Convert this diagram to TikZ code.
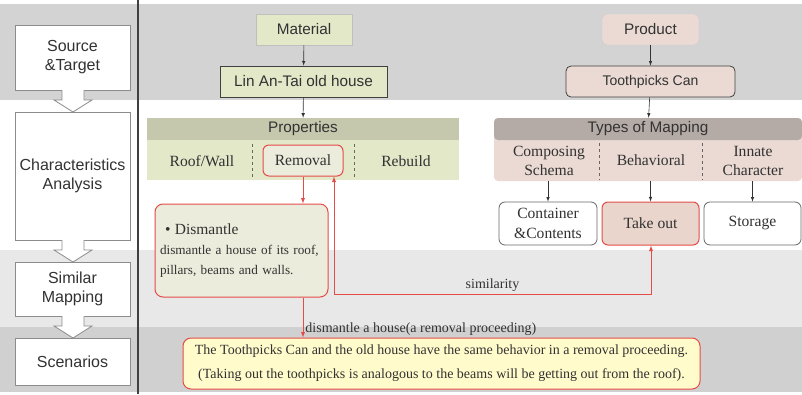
\documentclass[tikz,border=0pt]{standalone}
\usepackage{fontspec}
\setmainfont{Liberation Sans}
\newfontfamily\tms{Liberation Serif}
\usepackage{tikz}
\usetikzlibrary{arrows}

\definecolor{bandtop}{RGB}{211,211,211}
\definecolor{bandmid}{RGB}{232,232,232}
\definecolor{bandlow}{RGB}{208,208,208}
\definecolor{matgreen}{RGB}{226,232,200}
\definecolor{prophead}{RGB}{197,200,173}
\definecolor{prodpink}{RGB}{234,218,211}
\definecolor{typehead}{RGB}{181,171,166}
\definecolor{takepink}{RGB}{233,213,204}
\definecolor{dismfill}{RGB}{236,236,221}
\definecolor{scenfill}{RGB}{255,251,203}
\definecolor{linkred}{RGB}{228,76,72}
\definecolor{ink}{RGB}{50,50,50}

\tikzset{
  stage/.style={draw=black!45, fill=white, line width=0.8pt, align=center,
    inner sep=0pt, text=ink, font=\fontsize{16}{19}\selectfont},
  stagearrow/.style={draw=black!45, line width=0.8pt},
  srcbox/.style={fill=matgreen, inner sep=0pt, text=ink,
    font=\fontsize{15.3}{17}\selectfont},
  prodbox/.style={fill=prodpink, rounded corners=5pt, inner sep=0pt, text=ink,
    font=\fontsize{15.3}{17}\selectfont},
  band/.style={inner sep=0pt, text=ink, font=\fontsize{15.3}{17}\selectfont},
  kind/.style={align=center, inner sep=0pt, text=ink,
    font=\tms\fontsize{15.6}{19.5}\selectfont},
  outbox/.style={rounded corners=6pt, line width=0.8pt, align=center,
    inner sep=0pt, text=ink, font=\tms\fontsize{15.6}{19.5}\selectfont},
  redbox/.style={draw=linkred, line width=1pt, rounded corners=8pt},
  sep/.style={draw=black!60, dashed, line width=0.6pt},
  link/.style={->, draw=black!80, line width=0.6pt},
  redlink/.style={->, draw=linkred, line width=0.9pt},
  tag/.style={inner sep=2pt, text=ink, font=\tms\fontsize{14}{16}\selectfont}
}

\begin{document}
\begin{tikzpicture}[x=1pt, y=-1pt, >=latex]
  \useasboundingbox (0,0) rectangle (802,394);
  % background bands
  \fill[bandtop] (0,4) rectangle (802,100);
  \fill[bandmid] (0,250) rectangle (802,327);
  \fill[bandlow] (0,327) rectangle (802,392);
  \draw[black!75, line width=1.5pt] (138,0) -- (138,394);

  % stages on the left
  \node[stage, minimum width=115, minimum height=65] (ST) at (72.5,57.5) {Source\\\&Target};
  \node[stage, minimum width=115, minimum height=128] (CA) at (72.5,176) {Characteristics\\Analysis};
  \node[stage, minimum width=115, minimum height=54] (SM) at (72.5,289) {Similar\\Mapping};
  \node[stage, minimum width=115, minimum height=47] (SC) at (72.5,361.5) {Scenarios};
  \foreach \ya/\yb in {90/112, 240/262, 316/338} {
    \fill[white] (62,\ya-1) -- (62,\yb-12) -- (54,\yb-12) -- (73,\yb) -- (92,\yb-12) -- (84,\yb-12) -- (84,\ya-1) -- cycle;
    \draw[stagearrow] (62,\ya) -- (62,\yb-12) -- (54,\yb-12) -- (73,\yb) -- (92,\yb-12) -- (84,\yb-12) -- (84,\ya);
  }

  % material side
  \node[srcbox, draw=black!25, minimum width=96, minimum height=31] (Mat) at (304,29.5) {Material};
  \node[srcbox, draw=black!75, line width=0.8pt, minimum width=167, minimum height=31] (Lin) at (303.5,81.5) {Lin An-Tai old house};
  \node[band, fill=prophead, minimum width=312, minimum height=22] (PropH) at (303,129) {Properties};
  \node[fill=matgreen, minimum width=312, minimum height=40, inner sep=0pt] (PropB) at (303,160) {};
  \node[kind] (Roof) at (202,161) {Roof/Wall};
  \node[outbox, draw=linkred, line width=1pt, fill=dismfill, minimum width=80, minimum height=31] (Rem) at (303,160.5) {Removal};
  \node[kind] (Reb) at (406,161) {Rebuild};
  \draw[sep] (252,144) -- (252,177);
  \draw[sep] (354,144) -- (354,177);
  \draw[link] (Mat) -- (Lin);
  \draw[link] (Lin) -- (PropH);

  % product side
  \node[prodbox, draw=black!20, minimum width=97, minimum height=31] (Prod) at (650.5,29.5) {Product};
  \node[prodbox, draw=black!75, line width=0.8pt, minimum width=169, minimum height=31,
    font=\fontsize{14}{16}\selectfont] (Tooth) at (650.5,81.5) {Toothpicks Can};
  \node[fill=prodpink, rounded corners=4pt, minimum width=308, minimum height=63, inner sep=0pt] (TypB) at (648,149.5) {};
  \node[band, fill=typehead, rounded corners=4pt, minimum width=308, minimum height=22] (TypH) at (648,129) {Types of Mapping};
  \node[kind] (Comp) at (549,161) {Composing\\Schema};
  \node[kind] (Beh) at (651,160) {Behavioral};
  \node[kind] (Inn) at (753,161) {Innate\\Character};
  \draw[sep] (599,143) -- (599,180);
  \draw[sep] (702,143) -- (702,180);
  \draw[link] (Prod) -- (Tooth);
  \draw[link] (Tooth) -- (TypH);

  \node[outbox, draw=black!60, fill=white, minimum width=98, minimum height=43] (Cont) at (548,223.5) {Container\\\&Contents};
  \node[outbox, draw=linkred, line width=1pt, fill=takepink, minimum width=97, minimum height=43] (Take) at (650.5,223.5) {Take out};
  \node[outbox, draw=black!60, fill=white, minimum width=97, minimum height=43] (Stor) at (752.5,223.5) {Storage};
  \draw[link] (TypB.south -| Cont.north) -- (Cont.north);
  \draw[link] (TypB.south -| Take.north) -- (Take.north);
  \draw[link] (TypB.south -| Stor.north) -- (Stor.north);

  % dismantle and scenario
  \node[redbox, fill=dismfill, minimum width=173, minimum height=93, text width=163,
    align=left, inner sep=0pt, text=ink, font=\tms\fontsize{13.2}{20}\selectfont] (Dism) at (241.5,250.5)
    {\hspace*{5pt}{\fontsize{15.5}{18}\selectfont\textbullet\ Dismantle}\\dismantle a house of its roof,\\pillars, beams and walls.};
  \node[redbox, fill=scenfill, minimum width=517, minimum height=51, align=center,
    inner sep=0pt, text=ink, font=\tms\fontsize{14}{24}\selectfont] (Scen) at (441.5,363.5)
    {The Toothpicks Can and the old house have the same behavior in a removal proceeding.\\
     (Taking out the toothpicks is analogous to the beams will be getting out from the roof).};

  \coordinate (simL) at (334,294);
  \coordinate (simR) at (651,294);
  \draw[redlink] (Rem.south) -- (Rem.south |- Dism.north);
  \draw[redlink] (Rem.south |- Dism.south) -- (Rem.south |- Scen.north)
    node[tag, anchor=south west, pos=1] {dismantle a house(a removal proceeding)};
  \draw[redlink, <->] (Rem.south -| simL) -- (simL) -- node[tag, above] {similarity} (simR) -- (Take.south -| simR);
\end{tikzpicture}
\end{document}
